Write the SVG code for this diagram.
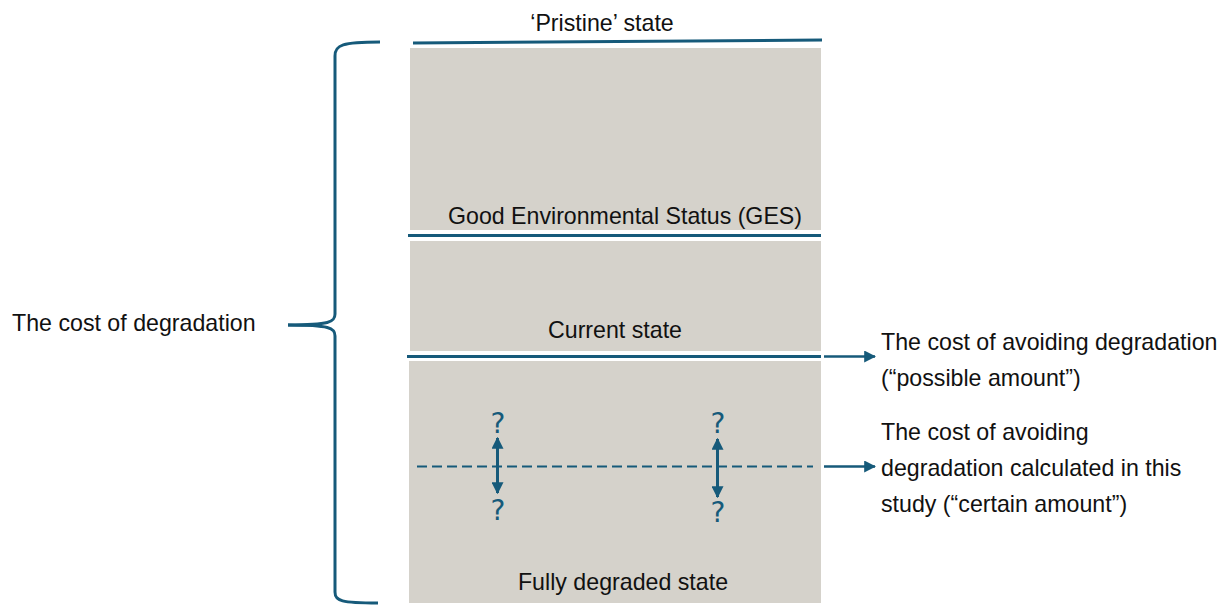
<svg xmlns="http://www.w3.org/2000/svg" width="1229" height="606" viewBox="0 0 1229 606">
<style>
.band{fill:#d5d2cb;}
.lbl{font-family:"Liberation Sans",Arial,sans-serif;font-size:23.2px;fill:#111;}
.q{font-family:"DejaVu Sans",sans-serif;font-size:28px;fill:#165a7a;text-anchor:middle;}
.ln{stroke:#165a7a;fill:none;}
</style>
<defs>
<marker id="ah" viewBox="0 0 10 10" refX="9" refY="5" markerWidth="12" markerHeight="12" markerUnits="userSpaceOnUse" orient="auto-start-reverse">
<path d="M0,0 L10,5 L0,10 Z" fill="#165a7a"/>
</marker>
</defs>
<rect width="1229" height="606" fill="#ffffff"/>
<g id="band-top"><rect class="band" x="410" y="48" width="411" height="182"/></g>
<g id="band-mid"><rect class="band" x="410" y="241" width="411" height="110"/></g>
<g id="band-low"><rect class="band" x="409" y="361" width="412" height="242"/></g>
<g id="bracket">
<path class="ln" stroke-width="3" d="M380,42 C342,42 335,45 335,56 L335,314 C335,322 330,325 288,325"/>
<path class="ln" stroke-width="3" d="M288,325 C330,325 335,328 335,336 L335,592 C335,601 341,603 378,603"/>
</g>
<g id="connectors">
<line class="ln" stroke-width="3" x1="413" y1="43" x2="822" y2="40"/>
<line class="ln" stroke-width="3" x1="408" y1="235.5" x2="821" y2="235.5"/>
<line class="ln" stroke-width="3" x1="407" y1="356.5" x2="821" y2="356.5"/>
<line class="ln" stroke-width="2" stroke-dasharray="10 5" x1="417" y1="466.5" x2="813" y2="466.5"/>
<line class="ln" stroke-width="2.5" x1="824" y1="356.5" x2="875" y2="356.5" marker-end="url(#ah)"/>
<line class="ln" stroke-width="2.5" x1="824" y1="466.5" x2="875" y2="466.5" marker-end="url(#ah)"/>
<line class="ln" stroke-width="3" x1="497.5" y1="438" x2="497.5" y2="493" marker-start="url(#ah)" marker-end="url(#ah)"/>
<line class="ln" stroke-width="3" x1="717.5" y1="439" x2="717.5" y2="497" marker-start="url(#ah)" marker-end="url(#ah)"/>
</g>
<g id="labels">
<text class="lbl" x="602" y="31" text-anchor="middle">‘Pristine’ state</text>
<text class="lbl" x="625" y="224" text-anchor="middle" textLength="354" lengthAdjust="spacingAndGlyphs">Good Environmental Status (GES)</text>
<text class="lbl" x="615" y="338" text-anchor="middle">Current state</text>
<text class="lbl" x="623" y="590" text-anchor="middle">Fully degraded state</text>
<text class="lbl" x="12" y="331">The cost of degradation</text>
<text class="lbl" x="881" y="350">The cost of avoiding degradation</text>
<text class="lbl" x="881" y="386">(“possible amount”)</text>
<text class="lbl" x="881" y="440">The cost of avoiding</text>
<text class="lbl" x="881" y="476">degradation calculated in this</text>
<text class="lbl" x="881" y="512">study (“certain amount”)</text>
</g>
<g id="qmarks">
<text class="q" x="498" y="433">?</text>
<text class="q" x="498" y="520">?</text>
<text class="q" x="718" y="433">?</text>
<text class="q" x="718" y="522">?</text>
</g>
</svg>
